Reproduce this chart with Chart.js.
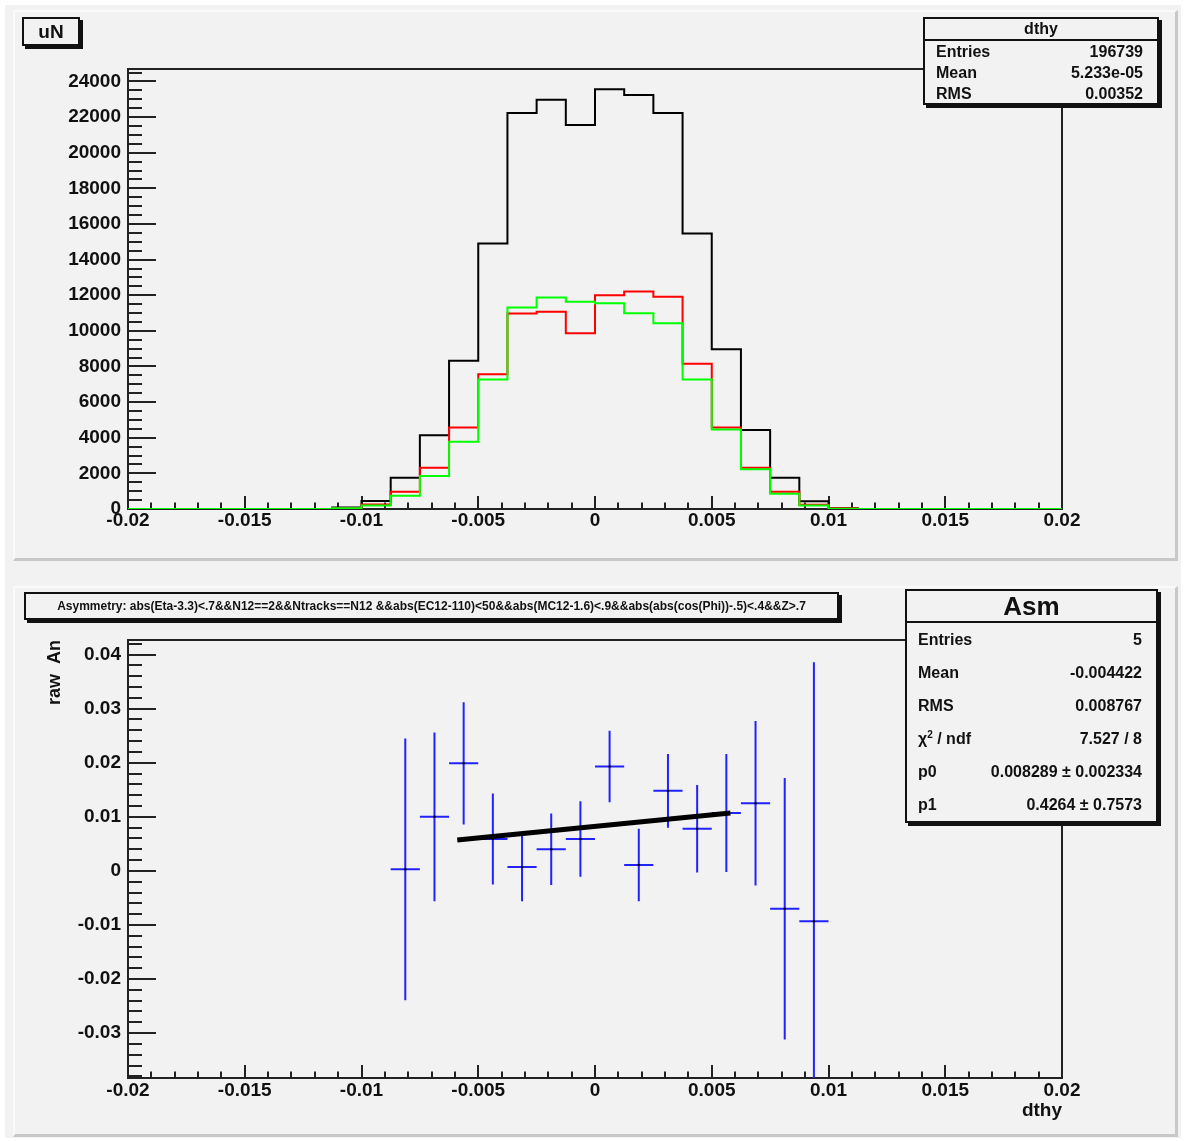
<!DOCTYPE html>
<html>
<head>
<meta charset="utf-8">
<script src="https://cdn.jsdelivr.net/npm/chart.js@4.4.1/dist/chart.umd.min.js"></script>
<style>
  body { margin: 0; background: #fff; width: 1184px; height: 1141px; position: relative; overflow: hidden;
         font-family: "Liberation Sans", Arial, sans-serif; }
  #outer { position: absolute; left: 5px; top: 5px; width: 1176px; height: 1133px; background: #f2f2f2; }
  .pad { position: absolute; left: 13px; width: 1165px; height: 551px; background: #f2f2f2; box-sizing: border-box;
         border-left: 2px solid #fafafa; border-top: 2px solid #fafafa; border-right: 3px solid #c8c8c8; border-bottom: 3px solid #c8c8c8; }
  canvas { position: absolute; left: 0; }
  .box { position: absolute; background: #f2f2f2; border: 2px solid #111; box-shadow: 3px 3px 0 #111; box-sizing: border-box; font-weight: bold; color: #111; }
  .stats .ttl { text-align: center; border-bottom: 2px solid #111; }
  .stats .row { display: flex; justify-content: space-between; padding: 0 14px 0 11px; }
  sup { font-size: 10px; line-height: 0; }
</style>
</head>
<body>
<div id="outer"></div>
<div class="pad" style="top:10px"></div>
<div class="pad" style="top:586px"></div>
<canvas id="topChart" width="1184" height="575" style="top:0"></canvas>
<canvas id="botChart" width="1184" height="561" style="top:580px"></canvas>

<div class="box" style="left:22px; top:17px; width:58px; height:29px; font-size:19px; text-align:center; line-height:25px;">uN</div>

<div class="box stats" style="left:923px; top:17px; width:236px; height:88px; font-size:16px;">
  <div class="ttl" style="height:20px; line-height:19px;">dthy</div>
  <div class="row" style="line-height:21px;"><span>Entries</span><span>196739</span></div>
  <div class="row" style="line-height:21px;"><span>Mean</span><span>5.233e-05</span></div>
  <div class="row" style="line-height:21px;"><span>RMS</span><span>0.00352</span></div>
</div>

<div class="box" style="left:24px; top:592px; width:815px; height:28px; font-size:12px; text-align:center; line-height:24px;">Asymmetry: abs(Eta-3.3)&lt;.7&amp;&amp;N12==2&amp;&amp;Ntracks==N12 &amp;&amp;abs(EC12-110)&lt;50&amp;&amp;abs(MC12-1.6)&lt;.9&amp;&amp;abs(abs(cos(Phi))-.5)&lt;.4&amp;&amp;Z&gt;.7</div>

<div class="box stats" style="left:905px; top:589px; width:253px; height:234px; font-size:16px;">
  <div class="ttl" style="height:30px; line-height:30px; font-size:26px;">Asm</div>
  <div class="row" style="line-height:33px;"><span>Entries</span><span>5</span></div>
  <div class="row" style="line-height:33px;"><span>Mean</span><span>-0.004422</span></div>
  <div class="row" style="line-height:33px;"><span>RMS</span><span>0.008767</span></div>
  <div class="row" style="line-height:33px;"><span>&chi;<sup>2</sup> / ndf</span><span>7.527 / 8</span></div>
  <div class="row" style="line-height:33px;"><span>p0</span><span>0.008289 &plusmn; 0.002334</span></div>
  <div class="row" style="line-height:33px;"><span>p1</span><span>0.4264 &plusmn; 0.7573</span></div>
</div>

<script>
// histogram bin low edges (32 bins of 0.00125 from -0.02 to 0.02)
const binEdges = [-0.02, -0.01875, -0.0175, -0.01625, -0.015, -0.01375, -0.0125, -0.01125,
  -0.01, -0.00875, -0.0075, -0.00625, -0.005, -0.00375, -0.0025, -0.00125,
  0, 0.00125, 0.0025, 0.00375, 0.005, 0.00625, 0.0075, 0.00875,
  0.01, 0.01125, 0.0125, 0.01375, 0.015, 0.01625, 0.0175, 0.01875, 0.02];

const countsAll = [0, 0, 0, 0, 0, 0, 0, 80,
  450, 1760, 4140, 8320, 14900, 22230, 22980, 21560,
  23560, 23240, 22230, 15470, 8970, 4440, 1760, 430,
  60, 0, 0, 0, 0, 0, 0, 0];
const countsRed = [0, 0, 0, 0, 0, 0, 0, 40,
  250, 975, 2320, 4570, 7570, 10970, 11070, 9870,
  12000, 12210, 11910, 8150, 4570, 2320, 970, 240,
  40, 0, 0, 0, 0, 0, 0, 0];
const countsGreen = [0, 0, 0, 0, 0, 0, 0, 40,
  200, 740, 1850, 3780, 7270, 11310, 11870, 11630,
  11550, 10990, 10430, 7270, 4460, 2230, 860, 200,
  20, 0, 0, 0, 0, 0, 0, 0];

// asymmetry points
const asymX = [-0.008125, -0.006875, -0.005625, -0.004375, -0.003125, -0.001875, -0.000625,
  0.000625, 0.001875, 0.003125, 0.004375, 0.005625, 0.006875, 0.008125, 0.009375];
const asymY = [0.0003, 0.0100, 0.0199, 0.0059, 0.0007, 0.0040, 0.0059,
  0.0193, 0.0011, 0.0148, 0.0078, 0.0107, 0.0125, -0.0070, -0.0093];
const asymErr = [0.0242, 0.0156, 0.0113, 0.0084, 0.0063, 0.0066, 0.0070,
  0.0066, 0.0067, 0.0068, 0.0081, 0.0109, 0.0152, 0.0242, 0.0479];
const binWidth = 0.00125;

// linear fit drawn over the central range
const fitX = [-0.0059, 0.0058];
const fitY = [0.0057, 0.0107];

// tick labels
const xTicks = [-0.02, -0.015, -0.01, -0.005, 0, 0.005, 0.01, 0.015, 0.02];
const yTicksTop = [0, 2000, 4000, 6000, 8000, 10000, 12000, 14000, 16000, 18000, 20000, 22000, 24000];
const yTicksBot = [-0.03, -0.02, -0.01, 0, 0.01, 0.02, 0.03, 0.04];

const fmt = (v) => String(Math.round(v * 1e6) / 1e6);
const fam = "'Liberation Sans', Arial, sans-serif";
const tickFont = { family: fam, size: 19, weight: 'bold' };

// ROOT-style frame with inward major/minor ticks, drawn under the data
const rootAxes = {
  id: 'rootAxes',
  beforeDatasetsDraw(chart, args, opts) {
    const { ctx, chartArea: a, scales } = chart;
    const sx = scales.x, sy = scales.y;
    ctx.save();
    ctx.strokeStyle = '#222';
    ctx.lineWidth = 2;
    ctx.strokeRect(a.left, a.top, a.right - a.left, a.bottom - a.top);
    ctx.beginPath();
    for (let k = Math.ceil(sx.min / opts.xMinor - 1e-6); k * opts.xMinor <= sx.max + 1e-9; k++) {
      const v = k * opts.xMinor;
      const major = Math.abs(v / opts.xMajor - Math.round(v / opts.xMajor)) < 1e-6;
      const px = Math.round(sx.getPixelForValue(v));
      ctx.moveTo(px, a.bottom);
      ctx.lineTo(px, a.bottom - (major ? opts.xLen : opts.xLen / 2));
    }
    for (let k = Math.ceil(sy.min / opts.yMinor - 1e-6); k * opts.yMinor <= sy.max + 1e-9; k++) {
      const v = k * opts.yMinor;
      const major = Math.abs(v / opts.yMajor - Math.round(v / opts.yMajor)) < 1e-6;
      const py = Math.round(sy.getPixelForValue(v));
      ctx.moveTo(a.left, py);
      ctx.lineTo(a.left + (major ? opts.yLen : opts.yLen / 2), py);
    }
    ctx.stroke();
    ctx.restore();
  }
};

function histPoints(counts) {
  const pts = counts.map((c, i) => ({ x: binEdges[i], y: c }));
  pts.push({ x: binEdges[binEdges.length - 1], y: counts[counts.length - 1] });
  return pts;
}

function histSet(counts, color) {
  return {
    data: histPoints(counts),
    stepped: 'before',   // horizontal at bin value, then vertical at the next edge
    borderColor: color,
    borderWidth: 2,
    pointRadius: 0,
    fill: false
  };
}

// top pad: dthy histograms
new Chart(document.getElementById('topChart'), {
  type: 'line',
  data: {
    datasets: [
      histSet(countsGreen, '#00ff00'),
      histSet(countsRed, '#ff0000'),
      histSet(countsAll, '#000000')
    ]
  },
  options: {
    responsive: false,
    animation: false,
    layout: { padding: { left: 0, top: 69, right: 122, bottom: 26 } },
    plugins: {
      legend: { display: false },
      tooltip: { enabled: false },
      rootAxes: { xMajor: 0.005, xMinor: 0.001, xLen: 13, yMajor: 2000, yMinor: 500, yLen: 28 }
    },
    scales: {
      x: {
        type: 'linear', min: -0.02, max: 0.02,
        grid: { display: false, drawTicks: false }, border: { display: false },
        afterBuildTicks: (s) => { s.ticks = xTicks.map((v) => ({ value: v })); },
        afterFit: (s) => { s.height = 40; },
        ticks: { callback: fmt, color: '#111', font: tickFont, padding: 0, maxRotation: 0, autoSkip: false }
      },
      y: {
        min: 0, max: 24700,
        grid: { display: false, drawTicks: false }, border: { display: false },
        afterBuildTicks: (s) => { s.ticks = yTicksTop.map((v) => ({ value: v })); },
        afterFit: (s) => { s.width = 128; },
        ticks: { callback: fmt, color: '#111', font: tickFont, padding: 7, autoSkip: false }
      }
    }
  },
  plugins: [rootAxes]
});

// bottom pad: asymmetry with error bars and linear fit
const vBars = [], hBars = [];
asymX.forEach((x, i) => {
  vBars.push({ x: x, y: asymY[i] - asymErr[i] }, { x: x, y: asymY[i] + asymErr[i] }, { x: x, y: null });
  hBars.push({ x: x - binWidth / 2, y: asymY[i] }, { x: x + binWidth / 2, y: asymY[i] }, { x: x + binWidth / 2, y: null });
});

new Chart(document.getElementById('botChart'), {
  type: 'line',
  data: {
    datasets: [
      { data: fitX.map((x, i) => ({ x: x, y: fitY[i] })), borderColor: '#000', borderWidth: 5, pointRadius: 0, borderCapStyle: 'butt' },
      { data: asymX.map((x, i) => ({ x: x, y: asymY[i] })), showLine: false, pointRadius: 1.2, pointBorderWidth: 0, pointBackgroundColor: '#000' },
      { data: vBars, borderColor: '#2222ff', borderWidth: 2, pointRadius: 0, spanGaps: false },
      { data: hBars, borderColor: '#2222ff', borderWidth: 2, pointRadius: 0, spanGaps: false }
    ]
  },
  options: {
    responsive: false,
    animation: false,
    layout: { padding: { left: 0, top: 60, right: 122, bottom: 18 } },
    plugins: {
      legend: { display: false },
      tooltip: { enabled: false },
      rootAxes: { xMajor: 0.005, xMinor: 0.001, xLen: 13, yMajor: 0.01, yMinor: 0.002, yLen: 28 }
    },
    scales: {
      x: {
        type: 'linear', min: -0.02, max: 0.02,
        grid: { display: false, drawTicks: false }, border: { display: false },
        afterBuildTicks: (s) => { s.ticks = xTicks.map((v) => ({ value: v })); },
        afterFit: (s) => { s.height = 45; },
        ticks: { callback: fmt, color: '#111', font: tickFont, padding: 1, maxRotation: 0, autoSkip: false },
        title: { display: true, text: 'dthy', align: 'end', color: '#111',
                 font: { family: fam, size: 19, weight: 'bold' }, padding: { top: 0, bottom: 1 } }
      },
      y: {
        min: -0.0383, max: 0.0427,
        grid: { display: false, drawTicks: false }, border: { display: false },
        afterBuildTicks: (s) => { s.ticks = yTicksBot.map((v) => ({ value: v })); },
        afterFit: (s) => { s.width = 128; },
        ticks: { callback: fmt, color: '#111', font: tickFont, padding: 7, autoSkip: false },
        title: { display: true, text: 'raw  An', align: 'end', color: '#111',
                 font: { family: fam, size: 18, weight: 'bold' }, padding: { top: 44, bottom: 0 } }
      }
    }
  },
  plugins: [rootAxes]
});
</script>
</body>
</html>
